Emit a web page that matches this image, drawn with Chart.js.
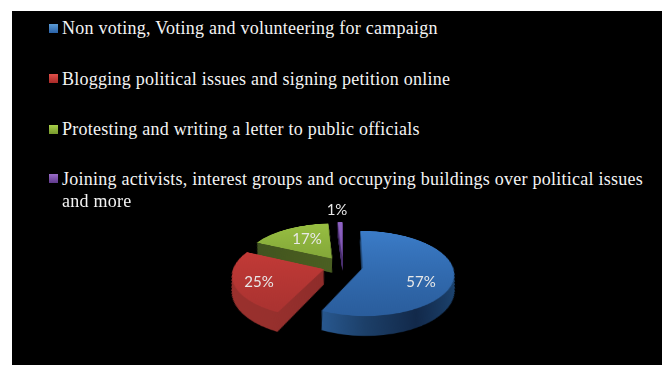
<!DOCTYPE html>
<html>
<head>
<meta charset="utf-8">
<script src="https://cdn.jsdelivr.net/npm/chart.js@4"></script>
<style>
  html, body { margin: 0; padding: 0; background: #fff; }
  #panel { position: absolute; left: 12px; top: 11px; width: 650px; height: 354px; background: #000; }
  #stage { position: absolute; left: 0; top: 0; width: 662px; height: 365px; overflow: hidden; }
  #pieBox { position: absolute; left: 143px; top: 66px; width: 400px; height: 400px;
            transform-origin: 200px 200px; transform: matrix3d(1,0,0,0, 0,0.46,0,-0.0014, 0,0,1,0, 0,0,0,1); }
  .row { position: absolute; left: 62px; color: #f4f4f4; font: 18px/23px "Liberation Serif", serif; letter-spacing: 0.25px; white-space: nowrap; }
  .key { position: absolute; left: 49px; width: 9px; height: 9px; }
  .pct { position: absolute; color: #e8e8e8; font: 15px/16px Lato, sans-serif; transform: translate(-50%, -50%); }
</style>
</head>
<body>
<div id="stage">
  <div id="panel"></div>
  <div id="pieBox"><canvas id="pie" width="400" height="400"></canvas></div>
</div>
<script>
// Survey shares of political participation, by type of activity
const categories = [
  ["Non voting, Voting and volunteering for campaign"],
  ["Blogging political issues and signing petition online"],
  ["Protesting and writing a letter to public officials"],
  ["Joining activists, interest groups and occupying buildings over political issues", "and more"]
];
const shares = [57, 25, 17, 1];
const valueLabels = ["57%", "25%", "17%", "1%"];

// Presentation settings
const legendTops = [17, 68, 118, 168];
const legendKeyTops = [24, 74, 125, 174];
const labelCentres = [[421, 281], [259, 281], [307, 238], [337, 209]];
const keyColours = [["#5b9bd5", "#2a62a8"], ["#e0504a", "#a82a28"], ["#a9d04a", "#76982c"], ["#9a6cc8", "#5f3a8c"]];
const topShades = [["#3b7cc8", "#2a5d9c"], ["#cc3d39", "#a83230"], ["#98bf42", "#6f9030"], ["#8f63c4", "#6a4498"]];
const sideShades = [
  ["#1c4470", "#12294a", "#1c3f68", "#2a5c96", "#2a5c96"],
  ["#7a2523", "#8a2b29", "#8e2c2a", "#97302d", "#9a302d"],
  ["#3f5220", "#46591f", "#4a5f22", "#46591f", "#3f5220"],
  ["#4a2f70", "#4a2f70", "#4a2f70", "#4a2f70", "#4a2f70"]
];
const explodeBy = 20;
const depth = 31;
const taper = 0.0014;
const drawOrder = [3, 2, 1, 0];

function sliceLayer(arc, dx, dy, fill) {
  const layer = Object.create(arc);
  layer.x = arc.x + dx;
  layer.y = arc.y + dy;
  layer.options = { backgroundColor: fill, borderColor: fill, borderWidth: 0, borderAlign: "center",
                    borderRadius: 0, borderDash: [], borderDashOffset: 0, offset: 0, spacing: 0,
                    circular: true, selfJoin: false };
  return layer;
}

// Stacks darker copies of each slice beneath a lit top face to give the pie its thickness
const extrudedPie = {
  id: "extrudedPie",
  beforeDatasetsDraw(chart) {
    const ctx = chart.ctx;
    const arcs = chart.getDatasetMeta(0).data;
    drawOrder.forEach(i => {
      const arc = arcs[i];
      const mid = (arc.startAngle + arc.endAngle) / 2;
      const dx = Math.cos(mid) * explodeBy;
      const dy = Math.sin(mid) * explodeBy;
      const R = arc.outerRadius;
      const side = ctx.createLinearGradient(arc.x + dx + R, 0, arc.x + dx - R, 0);
      sideShades[i].forEach((c, k, all) => side.addColorStop(k / (all.length - 1), c));
      for (let d = depth; d >= 1; d--) {
        // Lower layers are pulled in sideways so the wall keeps the face's width on screen
        ctx.save();
        ctx.translate(arc.x, 0);
        ctx.scale(1 - taper * d, 1);
        ctx.translate(-arc.x, 0);
        sliceLayer(arc, dx, dy + d, side).draw(ctx);
        ctx.restore();
      }
      const face = ctx.createLinearGradient(0, arc.y + dy - R, 0, arc.y + dy + R);
      topShades[i].forEach((c, k, all) => face.addColorStop(k / (all.length - 1), c));
      sliceLayer(arc, dx, dy, face).draw(ctx);
    });
    return false;
  }
};

new Chart(document.getElementById("pie"), {
  type: "pie",
  data: {
    labels: categories.map(lines => lines.join(" ")),
    datasets: [{ data: shares, radius: 90, borderWidth: 0 }]
  },
  options: {
    responsive: false,
    animation: false,
    plugins: { legend: { display: false }, tooltip: { enabled: false } }
  },
  plugins: [extrudedPie]
});

// Legend rows and value labels sit above the tilted pie
const stage = document.getElementById("stage");
categories.forEach((lines, i) => {
  const key = document.createElement("div");
  key.className = "key";
  key.style.top = legendKeyTops[i] + "px";
  key.style.background = "linear-gradient(" + keyColours[i][0] + "," + keyColours[i][1] + ")";
  stage.appendChild(key);
  lines.forEach((text, n) => {
    const row = document.createElement("div");
    row.className = "row";
    row.style.top = (legendTops[i] + n * 22) + "px";
    row.textContent = text;
    stage.appendChild(row);
  });
});
valueLabels.forEach((text, i) => {
  const el = document.createElement("div");
  el.className = "pct";
  el.style.left = labelCentres[i][0] + "px";
  el.style.top = labelCentres[i][1] + "px";
  el.textContent = text;
  stage.appendChild(el);
});
</script>
</body>
</html>
